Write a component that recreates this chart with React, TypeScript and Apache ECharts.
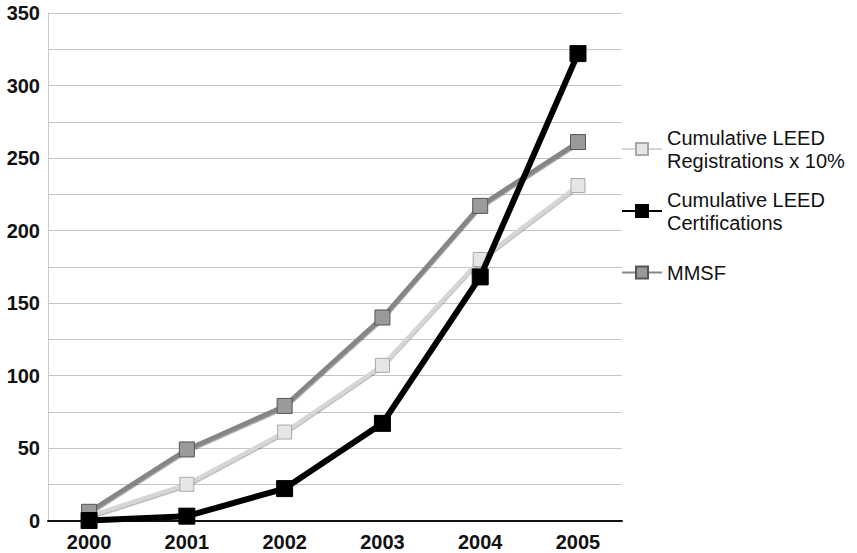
import React, { useEffect, useRef } from "react";
import * as echarts from "echarts";

const years = [2000, 2001, 2002, 2003, 2004, 2005];
const registrations = [3, 25, 61, 107, 180, 231];
const certifications = [0, 3, 22, 67, 168, 322];
const mmsf = [6, 49, 79, 140, 217, 261];
const seriesNames = [
  "Cumulative LEED\nRegistrations x 10%",
  "Cumulative LEED\nCertifications",
  "MMSF",
];

const pair = (vals: number[]) => vals.map((v, i) => [years[i], v]);

const legendText = {
  fontSize: 20,
  lineHeight: 23,
  color: "#111",
  fontFamily: "Liberation Sans, Arial, sans-serif",
};

export default function App() {
  const ref = useRef<HTMLDivElement>(null);
  useEffect(() => {
    if (!ref.current) return;
    const chart = echarts.init(ref.current, undefined, { renderer: "svg" });
    chart.setOption({
      animation: false,
      backgroundColor: "#ffffff",
      textStyle: { fontFamily: "Liberation Sans, Arial, sans-serif" },
      grid: { left: 48, right: 235, top: 13, bottom: 32.5, containLabel: false },
      legend: [
        {
          orient: "vertical",
          left: 616,
          top: 121,
          itemWidth: 40,
          itemHeight: 15,
          itemGap: 16,
          data: [seriesNames[0], seriesNames[1]],
          textStyle: legendText,
        },
        {
          orient: "vertical",
          left: 616,
          top: 256,
          itemWidth: 40,
          itemHeight: 15,
          data: [seriesNames[2]],
          textStyle: legendText,
        },
      ],
      xAxis: {
        type: "value",
        min: 1999.58,
        max: 2005.45,
        axisLine: { show: true, lineStyle: { color: "#111", width: 2 } },
        axisTick: { show: false },
        splitLine: { show: false },
        axisLabel: {
          customValues: years,
          formatter: (v: number) => String(Math.round(v)),
          fontSize: 20,
          fontWeight: "bold",
          color: "#111",
          margin: 11,
        },
      },
      yAxis: {
        type: "value",
        min: 0,
        max: 350,
        interval: 25,
        axisLine: { show: true, lineStyle: { color: "#cccccc", width: 1 } },
        axisTick: { show: false },
        splitLine: { show: true, lineStyle: { color: "#c4c4c4", width: 1 } },
        axisLabel: {
          formatter: (v: number) => (v % 50 === 0 ? String(v) : ""),
          fontSize: 20,
          fontWeight: "bold",
          color: "#111",
          margin: 8,
        },
      },
      series: [
        {
          name: seriesNames[0],
          type: "line",
          data: pair(registrations),
          symbol: "rect",
          symbolSize: 14,
          z: 2,
          lineStyle: {
            color: "#d6d6d6",
            width: 4,
            shadowColor: "rgba(0,0,0,0.35)",
            shadowOffsetY: 1.5,
            shadowBlur: 1,
          },
          itemStyle: { color: "#e6e6e6", borderColor: "#a8a8a8", borderWidth: 1 },
        },
        {
          name: seriesNames[1],
          type: "line",
          data: pair(certifications),
          symbol: "rect",
          symbolSize: 16,
          z: 4,
          lineStyle: { color: "#000000", width: 6 },
          itemStyle: { color: "#000000", borderColor: "#000", borderWidth: 1 },
        },
        {
          name: seriesNames[2],
          type: "line",
          data: pair(mmsf),
          symbol: "rect",
          symbolSize: 15,
          z: 3,
          lineStyle: {
            color: "#858585",
            width: 4.5,
            shadowColor: "rgba(0,0,0,0.45)",
            shadowOffsetY: 1.5,
            shadowBlur: 1,
          },
          itemStyle: { color: "#9a9a9a", borderColor: "#555555", borderWidth: 1 },
        },
      ],
    });
    return () => chart.dispose();
  }, []);
  return (
    <div
      ref={ref}
      style={{ position: "fixed", left: 0, top: 0, width: 857, height: 553 }}
    />
  );
}
